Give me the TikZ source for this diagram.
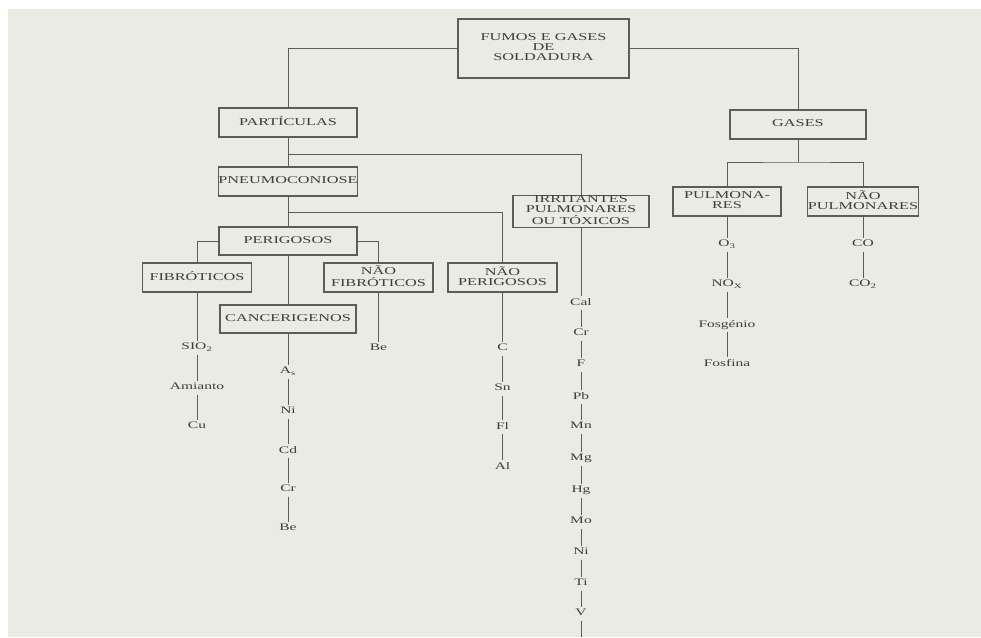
\documentclass[tikz,border=0pt]{standalone}
\usepackage{fontspec}
\setmainfont{Liberation Serif}
\usepackage{graphicx}
\definecolor{fundo}{RGB}{234,235,227}
\definecolor{traco}{RGB}{92,92,90}
\definecolor{letra}{RGB}{62,62,60}
\newcommand\larg[1]{\scalebox{1.55}[1]{\begin{tabular}{@{}c@{}}#1\end{tabular}}}
\tikzset{
  caixa/.style={draw=traco, line width=1.2pt, inner sep=0pt, text=letra,
    font=\fontsize{10.5}{9.5}\selectfont},
  item/.style={inner sep=0pt, minimum height=13pt, text=letra,
    font=\fontsize{10}{9.5}\selectfont},
  liga/.style={draw=traco, line width=0.9pt}
}

\begin{document}
\begin{tikzpicture}[x=1pt,y=-1pt]
    \fill[white] (0,0) rectangle (981,637);
    \fill[fundo] (8,9) rectangle (981,637);
    \useasboundingbox (0,0) rectangle (981,637);
    \node[caixa, minimum width=171pt, minimum height=59pt] (fumos) at (543.5,48.5) {\larg{FUMOS E GASES\\DE\\SOLDADURA}};
    \node[caixa, minimum width=138pt, minimum height=29pt] (part) at (288,122.5) {\larg{PARTÍCULAS}};
    \node[caixa, minimum width=136pt, minimum height=29pt] (gases) at (798,124.5) {\larg{GASES}};
    \node[caixa, minimum width=137pt, minimum height=29pt] (pneu) at (288,181.5) {\larg{PNEUMOCONIOSE}};
    \node[caixa, minimum width=136pt, minimum height=29pt] (irrit) at (581,211.5) {\larg{IRRITANTES\\PULMONARES\\OU TÓXICOS}};
    \node[caixa, minimum width=108pt, minimum height=29pt] (pulm) at (727,201.5) {\larg{PULMONA-\\RES}};
    \node[caixa, minimum width=110pt, minimum height=29pt] (naopulm) at (863,201.5) {\larg{NÃO\\PULMONARES}};
    \node[caixa, minimum width=138pt, minimum height=28pt] (peri) at (288,241) {\larg{PERIGOSOS}};
    \node[caixa, minimum width=109pt, minimum height=29pt] (fibro) at (197,277.5) {\larg{FIBRÓTICOS}};
    \node[caixa, minimum width=109pt, minimum height=29pt] (naofib) at (378.5,277.5) {\larg{NÃO\\FIBRÓTICOS}};
    \node[caixa, minimum width=109pt, minimum height=29pt] (naoper) at (502.5,277.5) {\larg{NÃO\\PERIGOSOS}};
    \node[caixa, minimum width=136pt, minimum height=28pt] (canc) at (288,319) {\larg{CANCERIGENOS}};
    \coordinate (b1) at (288,154);
    \coordinate (b2) at (288,212);
    \coordinate (b3) at (798,162);
    \coordinate (fim) at (581,637);
    \draw[liga] (fumos.west) -| (part.north);
    \draw[liga] (fumos.east) -| (gases.north);
    \draw[liga] (part) -- (pneu);
    \draw[liga] (b1) -| (irrit.north);
    \draw[liga] (pneu) -- (peri);
    \draw[liga] (b2) -| (naoper.north);
    \draw[liga] (peri.west) -| (fibro.north);
    \draw[liga] (peri.east) -| (naofib.north);
    \draw[liga] (peri) -- (canc);
    \draw[liga] (gases) -- (b3);
    \draw[liga] (pulm.north) |- (b3) -| (naopulm.north);
    \foreach \n/\t/\x/\y in {s1/SIO\textsubscript{2}/197/348, s2/Amianto/197/388, s3/Cu/197/427,
        n1/Be/378.5/349,
        c1/A\textsubscript{s}/288/372, c2/Ni/288/412, c3/Cd/288/451, c4/Cr/288/490, c5/Be/288/529,
        p1/C/502.5/349, p2/Sn/502.5/389, p3/Fl/502.5/427, p4/Al/502.5/467,
        i1/Cal/581/303, i2/Cr/581/334, i3/F/581/365, i4/Pb/581/397, i5/Mn/581/427, i6/Mg/581/459,
        i7/Hg/581/491, i8/Mo/581/522, i9/Ni/581/553, i10/Ti/581/584, i11/V/581/614,
        g1/O\textsubscript{3}/727/245, g2/NO\textsubscript{X}/727/285, g3/Fosgénio/727/325, g4/Fosfina/727/364,
        o1/CO/863/245, o2/CO\textsubscript{2}/863/285}
      \node[item] (\n) at (\x,\y) {\larg{\t}};
    \foreach \a/\b in {fibro/s1, s1/s2, s2/s3, naofib/n1,
        canc/c1, c1/c2, c2/c3, c3/c4, c4/c5,
        naoper/p1, p1/p2, p2/p3, p3/p4,
        irrit/i1, i1/i2, i2/i3, i3/i4, i4/i5, i5/i6, i6/i7, i7/i8, i8/i9, i9/i10, i10/i11, i11/fim,
        pulm/g1, g1/g2, g2/g3, g3/g4, naopulm/o1, o1/o2}
      \draw[liga] (\a) -- (\b);
\end{tikzpicture}
\end{document}
